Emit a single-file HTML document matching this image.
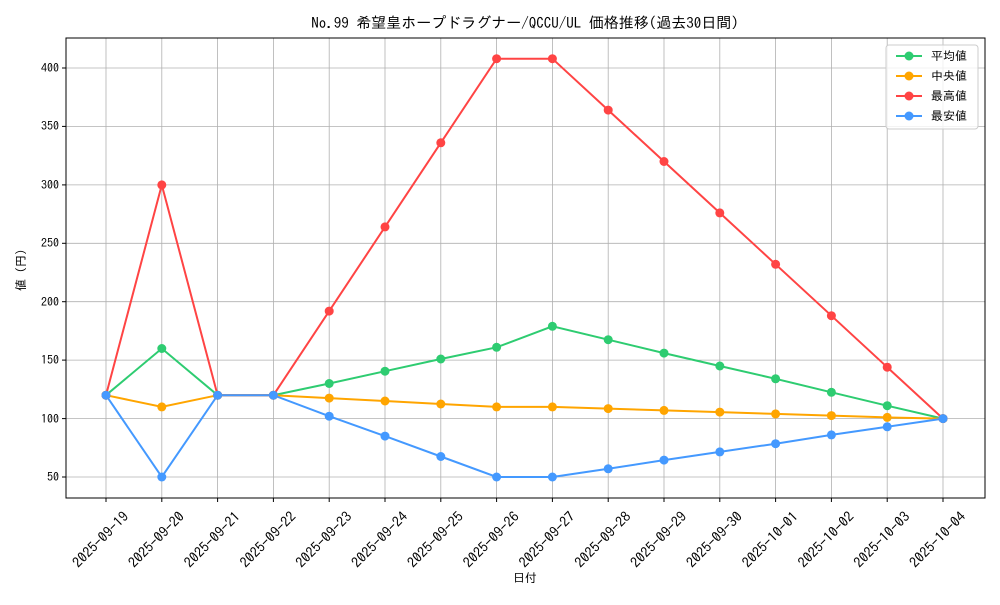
<!DOCTYPE html>
<html><head><meta charset="utf-8"><style>
body{margin:0;background:#fff}
svg text{font-family:"IPAGothic","Liberation Mono","Noto Sans CJK JP",monospace;fill:#000}
</style></head><body>
<svg width="1000" height="600" xmlns="http://www.w3.org/2000/svg">
<rect width="1000" height="600" fill="#fff"/>
<text x="525" y="28" font-size="15" text-anchor="middle">No.99 希望皇ホープドラグナー/QCCU/UL 価格推移(過去30日間)</text>
<g stroke="#b0b0b0" stroke-width="0.8">
<line x1="106" y1="38" x2="106" y2="498"/><line x1="161.8" y1="38" x2="161.8" y2="498"/><line x1="217.6" y1="38" x2="217.6" y2="498"/><line x1="273.4" y1="38" x2="273.4" y2="498"/><line x1="329.2" y1="38" x2="329.2" y2="498"/><line x1="385" y1="38" x2="385" y2="498"/><line x1="440.8" y1="38" x2="440.8" y2="498"/><line x1="496.6" y1="38" x2="496.6" y2="498"/><line x1="552.4" y1="38" x2="552.4" y2="498"/><line x1="608.2" y1="38" x2="608.2" y2="498"/><line x1="664" y1="38" x2="664" y2="498"/><line x1="719.8" y1="38" x2="719.8" y2="498"/><line x1="775.6" y1="38" x2="775.6" y2="498"/><line x1="831.4" y1="38" x2="831.4" y2="498"/><line x1="887.2" y1="38" x2="887.2" y2="498"/><line x1="943" y1="38" x2="943" y2="498"/>
<line x1="66" y1="477" x2="985" y2="477"/><line x1="66" y1="418.6" x2="985" y2="418.6"/><line x1="66" y1="360.1" x2="985" y2="360.1"/><line x1="66" y1="301.7" x2="985" y2="301.7"/><line x1="66" y1="243.3" x2="985" y2="243.3"/><line x1="66" y1="184.9" x2="985" y2="184.9"/><line x1="66" y1="126.4" x2="985" y2="126.4"/><line x1="66" y1="68" x2="985" y2="68"/>
</g>
<rect x="66" y="38" width="919" height="460" fill="none" stroke="#000" stroke-width="1"/>
<g stroke="#000"><line x1="62" y1="477" x2="66" y2="477"/><line x1="62" y1="418.6" x2="66" y2="418.6"/><line x1="62" y1="360.1" x2="66" y2="360.1"/><line x1="62" y1="301.7" x2="66" y2="301.7"/><line x1="62" y1="243.3" x2="66" y2="243.3"/><line x1="62" y1="184.9" x2="66" y2="184.9"/><line x1="62" y1="126.4" x2="66" y2="126.4"/><line x1="62" y1="68" x2="66" y2="68"/>
<line x1="106" y1="498" x2="106" y2="502"/><line x1="161.8" y1="498" x2="161.8" y2="502"/><line x1="217.6" y1="498" x2="217.6" y2="502"/><line x1="273.4" y1="498" x2="273.4" y2="502"/><line x1="329.2" y1="498" x2="329.2" y2="502"/><line x1="385" y1="498" x2="385" y2="502"/><line x1="440.8" y1="498" x2="440.8" y2="502"/><line x1="496.6" y1="498" x2="496.6" y2="502"/><line x1="552.4" y1="498" x2="552.4" y2="502"/><line x1="608.2" y1="498" x2="608.2" y2="502"/><line x1="664" y1="498" x2="664" y2="502"/><line x1="719.8" y1="498" x2="719.8" y2="502"/><line x1="775.6" y1="498" x2="775.6" y2="502"/><line x1="831.4" y1="498" x2="831.4" y2="502"/><line x1="887.2" y1="498" x2="887.2" y2="502"/><line x1="943" y1="498" x2="943" y2="502"/></g>
<g font-size="12" text-anchor="end">
<text x="59" y="481">50</text><text x="59" y="423">100</text><text x="59" y="364">150</text><text x="59" y="306">200</text><text x="59" y="247">250</text><text x="59" y="189">300</text><text x="59" y="130">350</text><text x="59" y="72">400</text>
</g>
<g font-size="14" text-anchor="middle">
<text transform="translate(104,543) rotate(-45)" textLength="72" lengthAdjust="spacingAndGlyphs">2025-09-19</text>
<text transform="translate(159.8,543) rotate(-45)" textLength="72" lengthAdjust="spacingAndGlyphs">2025-09-20</text>
<text transform="translate(215.6,543) rotate(-45)" textLength="72" lengthAdjust="spacingAndGlyphs">2025-09-21</text>
<text transform="translate(271.4,543) rotate(-45)" textLength="72" lengthAdjust="spacingAndGlyphs">2025-09-22</text>
<text transform="translate(327.2,543) rotate(-45)" textLength="72" lengthAdjust="spacingAndGlyphs">2025-09-23</text>
<text transform="translate(383,543) rotate(-45)" textLength="72" lengthAdjust="spacingAndGlyphs">2025-09-24</text>
<text transform="translate(438.8,543) rotate(-45)" textLength="72" lengthAdjust="spacingAndGlyphs">2025-09-25</text>
<text transform="translate(494.6,543) rotate(-45)" textLength="72" lengthAdjust="spacingAndGlyphs">2025-09-26</text>
<text transform="translate(550.4,543) rotate(-45)" textLength="72" lengthAdjust="spacingAndGlyphs">2025-09-27</text>
<text transform="translate(606.2,543) rotate(-45)" textLength="72" lengthAdjust="spacingAndGlyphs">2025-09-28</text>
<text transform="translate(662,543) rotate(-45)" textLength="72" lengthAdjust="spacingAndGlyphs">2025-09-29</text>
<text transform="translate(717.8,543) rotate(-45)" textLength="72" lengthAdjust="spacingAndGlyphs">2025-09-30</text>
<text transform="translate(773.6,543) rotate(-45)" textLength="72" lengthAdjust="spacingAndGlyphs">2025-10-01</text>
<text transform="translate(829.4,543) rotate(-45)" textLength="72" lengthAdjust="spacingAndGlyphs">2025-10-02</text>
<text transform="translate(885.2,543) rotate(-45)" textLength="72" lengthAdjust="spacingAndGlyphs">2025-10-03</text>
<text transform="translate(941,543) rotate(-45)" textLength="72" lengthAdjust="spacingAndGlyphs">2025-10-04</text>
</g>
<text x="525" y="582" font-size="12" text-anchor="middle">日付</text>
<text transform="translate(25,270) rotate(-90)" font-size="12" text-anchor="middle">値 (円)</text>
<g fill="none" stroke-width="2">
<polyline stroke="#2ecc71" points="106,395.2 161.8,348.5 217.6,395.2 273.4,395.2 329.2,383.5 385,371.2 440.8,359 496.6,347.3 552.4,326.3 608.2,339.7 664,353.1 719.8,366 775.6,378.8 831.4,392.3 887.2,405.7 943,418.6"/>
<polyline stroke="#ffa500" points="106,395.2 161.8,406.9 217.6,395.2 273.4,395.2 329.2,398.1 385,401 440.8,404 496.6,406.9 552.4,406.9 608.2,408.6 664,410.4 719.8,412.1 775.6,413.9 831.4,415.6 887.2,417.4 943,418.6"/>
<polyline stroke="#ff4444" points="106,395.2 161.8,184.9 217.6,395.2 273.4,395.2 329.2,311.1 385,226.9 440.8,142.8 496.6,58.7 552.4,58.7 608.2,110.1 664,161.5 719.8,212.9 775.6,264.3 831.4,315.7 887.2,367.2 943,418.6"/>
<polyline stroke="#4499ff" points="106,395.2 161.8,477 217.6,395.2 273.4,395.2 329.2,416.2 385,436.1 440.8,456.5 496.6,477 552.4,477 608.2,468.8 664,460.1 719.8,451.9 775.6,443.7 831.4,434.9 887.2,426.8 943,418.6"/>
</g>
<g fill="#2ecc71"><circle cx="106" cy="395.2" r="4.5"/><circle cx="161.8" cy="348.5" r="4.5"/><circle cx="217.6" cy="395.2" r="4.5"/><circle cx="273.4" cy="395.2" r="4.5"/><circle cx="329.2" cy="383.5" r="4.5"/><circle cx="385" cy="371.2" r="4.5"/><circle cx="440.8" cy="359" r="4.5"/><circle cx="496.6" cy="347.3" r="4.5"/><circle cx="552.4" cy="326.3" r="4.5"/><circle cx="608.2" cy="339.7" r="4.5"/><circle cx="664" cy="353.1" r="4.5"/><circle cx="719.8" cy="366" r="4.5"/><circle cx="775.6" cy="378.8" r="4.5"/><circle cx="831.4" cy="392.3" r="4.5"/><circle cx="887.2" cy="405.7" r="4.5"/><circle cx="943" cy="418.6" r="4.5"/></g>
<g fill="#ffa500"><circle cx="106" cy="395.2" r="4.5"/><circle cx="161.8" cy="406.9" r="4.5"/><circle cx="217.6" cy="395.2" r="4.5"/><circle cx="273.4" cy="395.2" r="4.5"/><circle cx="329.2" cy="398.1" r="4.5"/><circle cx="385" cy="401" r="4.5"/><circle cx="440.8" cy="404" r="4.5"/><circle cx="496.6" cy="406.9" r="4.5"/><circle cx="552.4" cy="406.9" r="4.5"/><circle cx="608.2" cy="408.6" r="4.5"/><circle cx="664" cy="410.4" r="4.5"/><circle cx="719.8" cy="412.1" r="4.5"/><circle cx="775.6" cy="413.9" r="4.5"/><circle cx="831.4" cy="415.6" r="4.5"/><circle cx="887.2" cy="417.4" r="4.5"/><circle cx="943" cy="418.6" r="4.5"/></g>
<g fill="#ff4444"><circle cx="106" cy="395.2" r="4.5"/><circle cx="161.8" cy="184.9" r="4.5"/><circle cx="217.6" cy="395.2" r="4.5"/><circle cx="273.4" cy="395.2" r="4.5"/><circle cx="329.2" cy="311.1" r="4.5"/><circle cx="385" cy="226.9" r="4.5"/><circle cx="440.8" cy="142.8" r="4.5"/><circle cx="496.6" cy="58.7" r="4.5"/><circle cx="552.4" cy="58.7" r="4.5"/><circle cx="608.2" cy="110.1" r="4.5"/><circle cx="664" cy="161.5" r="4.5"/><circle cx="719.8" cy="212.9" r="4.5"/><circle cx="775.6" cy="264.3" r="4.5"/><circle cx="831.4" cy="315.7" r="4.5"/><circle cx="887.2" cy="367.2" r="4.5"/><circle cx="943" cy="418.6" r="4.5"/></g>
<g fill="#4499ff"><circle cx="106" cy="395.2" r="4.5"/><circle cx="161.8" cy="477" r="4.5"/><circle cx="217.6" cy="395.2" r="4.5"/><circle cx="273.4" cy="395.2" r="4.5"/><circle cx="329.2" cy="416.2" r="4.5"/><circle cx="385" cy="436.1" r="4.5"/><circle cx="440.8" cy="456.5" r="4.5"/><circle cx="496.6" cy="477" r="4.5"/><circle cx="552.4" cy="477" r="4.5"/><circle cx="608.2" cy="468.8" r="4.5"/><circle cx="664" cy="460.1" r="4.5"/><circle cx="719.8" cy="451.9" r="4.5"/><circle cx="775.6" cy="443.7" r="4.5"/><circle cx="831.4" cy="434.9" r="4.5"/><circle cx="887.2" cy="426.8" r="4.5"/><circle cx="943" cy="418.6" r="4.5"/></g>
<rect x="886" y="45" width="92" height="84" rx="3" fill="#fff" fill-opacity="0.8" stroke="#ccc"/>
<g stroke-width="2">
<line x1="896" y1="56" x2="922" y2="56" stroke="#2ecc71"/><circle cx="909" cy="56" r="4.5" fill="#2ecc71"/>
<line x1="896" y1="76" x2="922" y2="76" stroke="#ffa500"/><circle cx="909" cy="76" r="4.5" fill="#ffa500"/>
<line x1="896" y1="96" x2="922" y2="96" stroke="#ff4444"/><circle cx="909" cy="96" r="4.5" fill="#ff4444"/>
<line x1="896" y1="116" x2="922" y2="116" stroke="#4499ff"/><circle cx="909" cy="116" r="4.5" fill="#4499ff"/>
</g>
<g font-size="12">
<text x="931" y="60">平均値</text><text x="931" y="80"> 中央値</text><text x="931" y="100">最高値</text><text x="931" y="120">最安値</text>
</g>
</svg>
</body></html>
